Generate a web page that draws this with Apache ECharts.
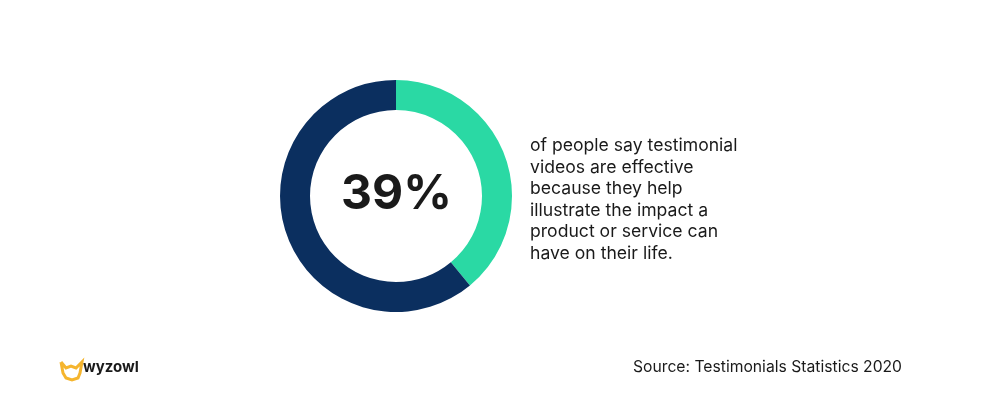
<!DOCTYPE html><html><head><meta charset="utf-8"><script src="https://cdn.jsdelivr.net/npm/echarts@6/dist/echarts.min.js"></script></head><body style="margin:0;background:#fff"><div id="c" style="width:1000px;height:400px"></div><script>
const labels=['Effective','Other'];
const values=[39,61];
const colors=['#2ad9a4','#0b2f5f'];
const bigLabel='39%';
const caption='of people say testimonial\nvideos are effective\nbecause they help\nillustrate the impact a\nproduct or service can\nhave on their life.';
const source='Source: Testimonials Statistics 2020';
const chart=echarts.init(document.getElementById('c'));
chart.setOption({animation:false,
series:[{type:'pie',center:[396,196],radius:[86,116],startAngle:90,clockwise:true,silent:true,label:{show:false},
data:labels.map((n,i)=>({name:n,value:values[i],itemStyle:{color:colors[i]}}))}],
graphic:[
{type:'text',left:341,top:171,style:{text:bigLabel,font:'bold 48px Inter, "Noto Sans", sans-serif',fill:'#1a1a1a'}},
{type:'text',left:530,top:135,style:{text:caption,font:'17.6px Inter, "Noto Sans", sans-serif',fill:'#1a1a1a',lineHeight:21.6}},
{type:'text',left:633,top:359,style:{text:source,font:'15.7px Inter, "Noto Sans", sans-serif',fill:'#1a1a1a'}},
{type:'text',left:83,top:360,style:{text:'wyzowl',font:'bold 15px Inter, "Noto Sans", sans-serif',fill:'#1a1a1a'}},
{type:'polyline',shape:{points:[[61,362],[63,373],[66,378],[72,380],[78,378],[80,373],[82,362],[76,368],[71,366],[66,368],[61,362]]},style:{fill:'none',stroke:'#f5b52e',lineWidth:3}}
]});
</script></body></html>
